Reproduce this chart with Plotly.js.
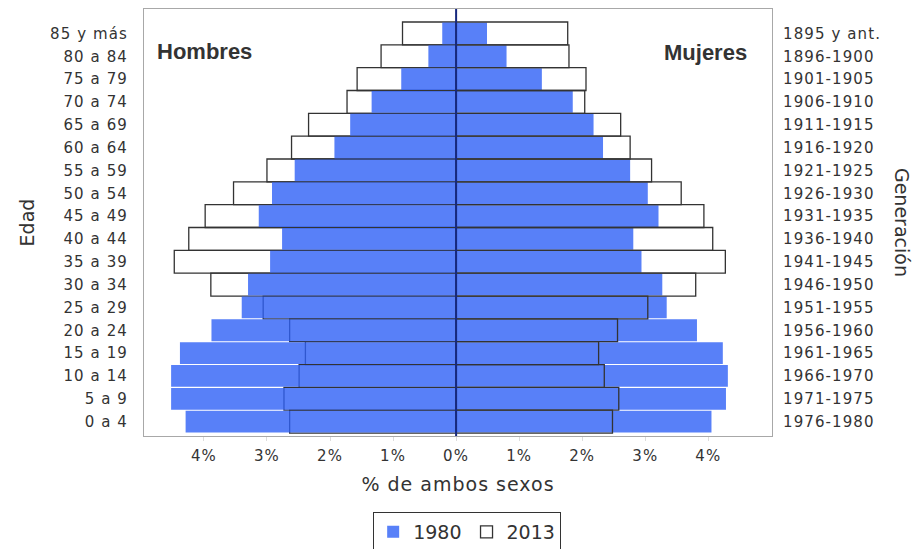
<!DOCTYPE html>
<html>
<head>
<meta charset="utf-8">
<script src="https://cdn.plot.ly/plotly-3.0.1.min.js"></script>
<style>
  html, body { margin: 0; padding: 0; background: #fff; }
  #chart { width: 920px; height: 549px; }
  .ytick text, .y2tick text, .xtick text { letter-spacing: 1.1px; }
  .xtitle { letter-spacing: 1px; }
</style>
</head>
<body>
<div id="chart"></div>
<script>
// Age groups (top to bottom) and matching birth cohorts
var ages = ['85 y más','80 a 84','75 a 79','70 a 74','65 a 69','60 a 64','55 a 59','50 a 54','45 a 49',
            '40 a 44','35 a 39','30 a 34','25 a 29','20 a 24','15 a 19','10 a 14','5 a 9','0 a 4'];
var generations = ['1895 y ant.','1896-1900','1901-1905','1906-1910','1911-1915','1916-1920','1921-1925',
                   '1926-1930','1931-1935','1936-1940','1941-1945','1946-1950','1951-1955','1956-1960',
                   '1961-1965','1966-1970','1971-1975','1976-1980'];

// % of both sexes
var men1980   = [0.22,0.44,0.87,1.34,1.68,1.93,2.56,2.92,3.13,2.76,2.95,3.30,3.40,3.88,4.38,4.52,4.52,4.29];
var women1980 = [0.49,0.80,1.36,1.85,2.18,2.33,2.76,3.04,3.21,2.81,2.94,3.27,3.34,3.82,4.23,4.31,4.28,4.05];
var men2013   = [0.85,1.19,1.57,1.73,2.34,2.61,3.00,3.53,3.98,4.24,4.47,3.89,3.06,2.64,2.39,2.49,2.73,2.64];
var women2013 = [1.77,1.79,2.06,2.04,2.61,2.76,3.10,3.57,3.93,4.07,4.27,3.80,3.04,2.56,2.26,2.35,2.58,2.48];

var xTickVals = [-4,-3,-2,-1,0,1,2,3,4];
var xTickText = ['4%','3%','2%','1%','0%','1%','2%','3%','4%'];

var blue = 'rgba(46,96,246,0.8)';
var outline = '#333333';
var neg = function (a) { return a.map(function (v) { return -v; }); };

var traces = [
  { type:'bar', orientation:'h', name:'2013', legendgroup:'2013', legendrank:2,
    x: neg(men2013), y: ages, width: 1,
    marker:{ color:'rgba(255,255,255,0)', line:{ color: outline, width:1.3 } }, hoverinfo:'skip' },
  { type:'bar', orientation:'h', name:'2013', legendgroup:'2013', showlegend:false,
    x: women2013, y: ages, yaxis:'y2', width: 1,
    marker:{ color:'rgba(255,255,255,0)', line:{ color: outline, width:1.3 } }, hoverinfo:'skip' },
  { type:'bar', orientation:'h', name:'1980', legendgroup:'1980', legendrank:1,
    x: neg(men1980), y: ages, width: 0.955,
    marker:{ color: blue, line:{ width:0 } }, hoverinfo:'skip' },
  { type:'bar', orientation:'h', name:'1980', legendgroup:'1980', showlegend:false,
    x: women1980, y: ages, width: 0.955,
    marker:{ color: blue, line:{ width:0 } }, hoverinfo:'skip' }
];

var tickFont = { family:'DejaVu Sans', size:15, color:'#333' };
var revAges = ages.slice().reverse();

var layout = {
  width: 920, height: 549,
  margin: { l:144, r:148, t:9, b:113, autoexpand:false },
  paper_bgcolor:'#fff', plot_bgcolor:'#fff',
  barmode:'overlay',
  showlegend:true,
  font: { family:'DejaVu Sans', color:'#333' },
  xaxis: {
    range:[-4.95, 5.01], tickmode:'array', tickvals:xTickVals, ticktext:xTickText,
    tickfont: tickFont, showgrid:false, zeroline:false,
    showline:true, mirror:true, linecolor:'#a8a8a8', linewidth:1,
    ticks:'outside', ticklen:4, tickcolor:'#dddddd', ticklabelstandoff:2,
    title:{ text:'% de ambos sexos', font:{ family:'DejaVu Sans', size:19, color:'#333' }, standoff:13 },
    automargin:false, fixedrange:true
  },
  yaxis: {
    type:'category', categoryorder:'array', categoryarray: revAges,
    range:[-0.63, 18.07], tickfont: tickFont, showgrid:false, zeroline:false,
    showline:true, mirror:true, linecolor:'#a8a8a8', linewidth:1,
    ticks:'', ticklabelstandoff:12,
    title:{ text:'Edad', font:{ family:'DejaVu Sans', size:19, color:'#333' }, standoff:10 },
    automargin:false, fixedrange:true
  },
  yaxis2: {
    type:'category', categoryorder:'array', categoryarray: revAges,
    overlaying:'y', side:'right', matches:'y',
    tickmode:'array', tickvals: ages, ticktext: generations,
    tickfont: tickFont, showgrid:false, zeroline:false, showline:false,
    ticks:'', ticklabelstandoff:10, automargin:false, fixedrange:true
  },
  legend: {
    orientation:'h', x:0.5146, xanchor:'center', y:-0.178, yanchor:'top',
    font:{ family:'DejaVu Sans', size:19, color:'#333' },
    bordercolor:'#333', borderwidth:1, bgcolor:'#fff',
    itemwidth:30, tracegroupgap:0,
    itemclick:false, itemdoubleclick:false
  },
  shapes: [
    { type:'line', xref:'x', yref:'paper', x0:0, x1:0, y0:0, y1:1,
      line:{ color:'#16287e', width:2 }, layer:'above' }
  ],
  annotations: [
    { text:'<b>Hombres</b>', xref:'paper', yref:'paper', x:0.0175, y:0.9016,
      xanchor:'left', yanchor:'middle', showarrow:false,
      font:{ family:'Liberation Sans', size:22, color:'#333' } },
    { text:'<b>Mujeres</b>', xref:'paper', yref:'paper', x:0.964, y:0.897,
      xanchor:'right', yanchor:'middle', showarrow:false,
      font:{ family:'Liberation Sans', size:22, color:'#333' } },
    { text:'Generación', xref:'paper', yref:'paper', x:1.207, y:0.499,
      xanchor:'center', yanchor:'middle', textangle:90, showarrow:false,
      font:{ family:'DejaVu Sans', size:19, color:'#333' } }
  ]
};

Plotly.newPlot('chart', traces, layout, { displayModeBar:false, staticPlot:true });
</script>
</body>
</html>
